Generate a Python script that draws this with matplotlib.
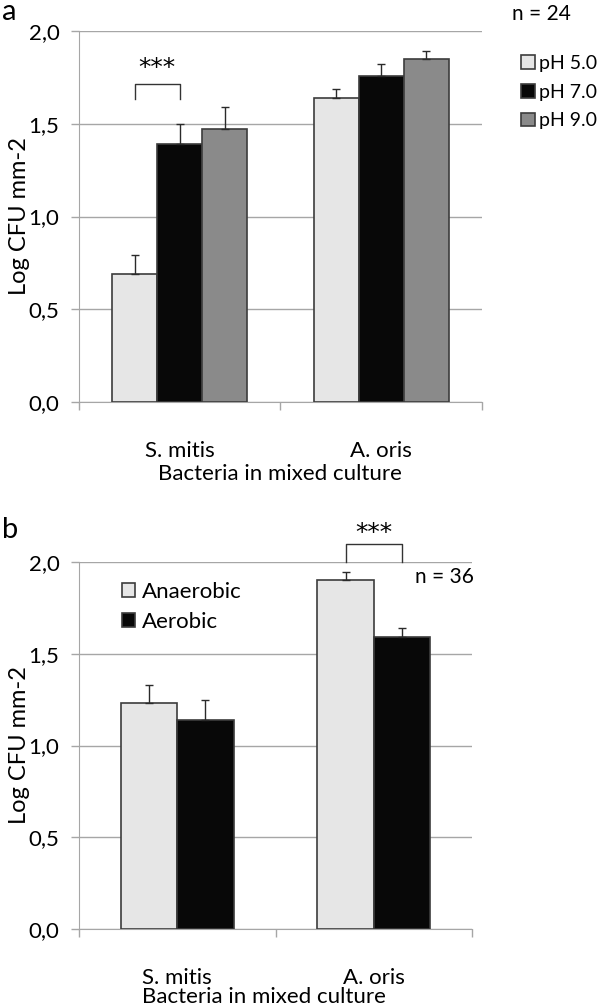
import numpy as np
import matplotlib.pyplot as plt

plt.rcParams['font.family'] = ['Lato', 'DejaVu Sans']

bacteria = ['S. mitis', 'A. oris']

# panel a: pH
ph_labels = ['pH 5.0', 'pH 7.0', 'pH 9.0']
ph_means = [[0.69, 1.64], [1.39, 1.76], [1.47, 1.85]]
ph_errs = [[0.10, 0.045], [0.11, 0.06], [0.12, 0.04]]
ph_colors = ['#e6e6e6', '#080808', '#8a8a8a']

# panel b: oxygen
oxy_labels = ['Anaerobic', 'Aerobic']
oxy_means = [[1.23, 1.90], [1.14, 1.59]]
oxy_errs = [[0.10, 0.045], [0.11, 0.05]]
oxy_colors = ['#e6e6e6', '#080808']

yticks = [0.0, 0.5, 1.0, 1.5, 2.0]
ytick_labels = ['0,0', '0,5', '1,0', '1,5', '2,0']

W, H = 600, 1005
FS = 16
GRID = '#a6a6a6'


def draw_panel(ax, means, errs, labels, colors, width):
    x = np.arange(len(bacteria))
    n = len(means)
    handles = []
    for i in range(n):
        off = (i - (n - 1) / 2) * width
        b = ax.bar(x + off, means[i], width, color=colors[i],
                   edgecolor='#3c3c3c', linewidth=1.2, zorder=3, label=labels[i])
        handles.append(b)
        ax.errorbar(x + off, means[i], yerr=[np.zeros(len(x)), errs[i]],
                    fmt='none', ecolor='#2a2a2a', elinewidth=1, capsize=3,
                    capthick=1, zorder=4)
    ax.set_ylim(0, 2.0)
    ax.set_xlim(-0.5, 1.5)
    ax.set_yticks(yticks)
    ax.set_yticklabels(ytick_labels)
    ax.yaxis.grid(True, color=GRID, linewidth=1)
    ax.set_axisbelow(True)
    for s in ['top', 'right']:
        ax.spines[s].set_visible(False)
    for s in ['left', 'bottom']:
        ax.spines[s].set_color(GRID)
    ax.set_xticks(x)
    ax.set_xticklabels(bacteria)
    ax.set_xticks([-0.5, 0.5, 1.5], minor=True)
    ax.tick_params(axis='x', which='major', length=0, pad=28, labelsize=FS)
    ax.tick_params(axis='x', which='minor', length=6, color=GRID, width=1)
    ax.tick_params(axis='y', length=6, color=GRID, width=1, pad=8, labelsize=FS)
    ax.set_ylabel('Log CFU mm-2', fontsize=FS + 1, labelpad=-1)
    return handles


def bracket(ax, x0, x1, yb, yt, ys):
    ax.plot([x0, x0, x1, x1], [yb, yt, yt, yb], color='#333333', lw=1,
            clip_on=False, zorder=5)
    ax.text((x0 + x1) / 2, ys, '***', ha='center', va='center', fontsize=18,
            family='DejaVu Sans', clip_on=False)


fig = plt.figure(figsize=(W / 100, H / 100), dpi=100)

ax_a = fig.add_axes([79 / W, 1 - 402 / H, (482 - 79) / W, (402 - 31) / H])
wa = 0.223
ha = draw_panel(ax_a, ph_means, ph_errs, ph_labels, ph_colors, wa)
bracket(ax_a, -wa, 0, 1.635, 1.715, 1.80)
fig.legend(handles=ha, labels=ph_labels, loc='upper left',
           bbox_to_anchor=(521 / W, 1 - 55 / H), frameon=False, fontsize=14,
           handlelength=0.7, handleheight=0.7, handletextpad=0.25,
           labelspacing=0.6, borderpad=0, borderaxespad=0)
fig.text(541 / W, 1 - 14 / H, 'n = 24', ha='center', va='center', fontsize=FS - 1)
fig.text(2 / W, 1 - 12 / H, 'a', ha='left', va='center', fontsize=21)
fig.text(280 / W, 1 - 474 / H, 'Bacteria in mixed culture', ha='center',
         va='center', fontsize=FS)

ax_b = fig.add_axes([79 / W, 1 - 929 / H, (472 - 79) / W, (929 - 562) / H])
wb = 0.287
hb = draw_panel(ax_b, oxy_means, oxy_errs, oxy_labels, oxy_colors, wb)
bracket(ax_b, 1 - wb / 2, 1 + wb / 2, 2.0, 2.098, 2.16)
ax_b.legend(handles=hb, labels=oxy_labels, loc='upper left',
            bbox_to_anchor=(122 / W, 1 - 582 / H), bbox_transform=fig.transFigure,
            frameon=False, fontsize=FS, handlelength=0.6, handleheight=0.6,
            handletextpad=0.3, labelspacing=0.45, borderpad=0, borderaxespad=0)
fig.text(444 / W, 1 - 577 / H, 'n = 36', ha='center', va='center', fontsize=FS - 1)
fig.text(2 / W, 1 - 530 / H, 'b', ha='left', va='center', fontsize=21)
fig.text(264 / W, 1 - 997 / H, 'Bacteria in mixed culture', ha='center',
         va='center', fontsize=FS)

fig.savefig('out.png', dpi=100)
